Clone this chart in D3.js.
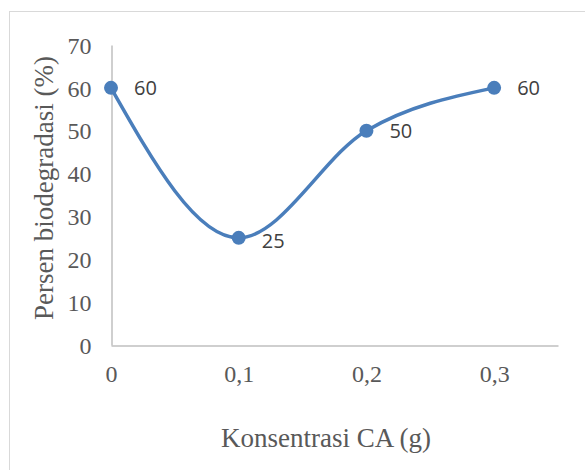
<!DOCTYPE html>
<html>
<head>
<meta charset="utf-8">
<script src="https://cdn.jsdelivr.net/npm/d3@7"></script>
<style>
  html, body { margin: 0; padding: 0; background: #fff; }
  svg { display: block; }
</style>
</head>
<body>
<svg id="chart" width="585" height="470"></svg>
<script>
// Biodegradation percentage vs. CA concentration
const concentrations = [0, 0.1, 0.2, 0.3];
const biodegradation = [60, 25, 50, 60];
const xTicks = [0, 0.1, 0.2, 0.3];
const yTicks = [0, 10, 20, 30, 40, 50, 60, 70];
const xTitle = "Konsentrasi CA (g)";
const yTitle = "Persen biodegradasi (%)";

const svg = d3.select("#chart");
const W = 585, H = 470;

const lineColor = "#4a7ebb";
const axisColor = "#bfbfbf";
const textColor = "#595959";
const serif = "'Liberation Serif', 'Times New Roman', serif";
const sans = "'Open Sans', 'Liberation Sans', sans-serif";

// chart frame
svg.append("rect")
  .attr("x", 9.5).attr("y", 11.5)
  .attr("width", W).attr("height", H)
  .attr("fill", "#fff")
  .attr("stroke", "#d9d9d9").attr("stroke-width", 1);

const plot = { left: 111, right: 558, top: 45, bottom: 345 };

const x = d3.scaleLinear().domain([0, 0.35]).range([plot.left, plot.right]);
const y = d3.scaleLinear().domain([0, 70]).range([plot.bottom, plot.top]);

const fmt = d => d === 0 ? "0" : d3.format(".1f")(d).replace(".", ",");

// y axis
const yAxis = svg.append("g")
  .attr("transform", `translate(${plot.left + 0.5},0)`)
  .call(d3.axisLeft(y).tickValues(yTicks).tickSize(0).tickPadding(20).tickFormat(d3.format("d")));
yAxis.select(".domain").attr("stroke", axisColor).attr("stroke-width", 1.5);
yAxis.selectAll("text")
  .attr("fill", textColor).attr("font-family", serif).attr("font-size", 24)
  .attr("dy", "0.34em");

// x axis
const xAxis = svg.append("g")
  .attr("transform", `translate(0,${plot.bottom + 0.5})`)
  .call(d3.axisBottom(x).tickValues(xTicks).tickSize(0).tickPadding(0).tickFormat(fmt));
xAxis.select(".domain").attr("stroke", axisColor).attr("stroke-width", 1.5);
xAxis.selectAll("text")
  .attr("fill", textColor).attr("font-family", serif).attr("font-size", 24)
  .attr("y", 36.5).attr("dy", null);

// axis titles
svg.append("text")
  .attr("x", 326)
  .attr("y", 447)
  .attr("text-anchor", "middle")
  .attr("fill", textColor).attr("font-family", serif).attr("font-size", 27)
  .text(xTitle);

svg.append("text")
  .attr("transform", `translate(53,188) rotate(-90)`)
  .attr("text-anchor", "middle")
  .attr("fill", textColor).attr("font-family", serif).attr("font-size", 27)
  .text(yTitle);

// data
const data = concentrations.map((c, i) => ({ c, v: biodegradation[i] }));

const line = d3.line()
  .x(d => x(d.c))
  .y(d => y(d.v))
  .curve(d3.curveMonotoneX);

svg.append("path")
  .datum(data)
  .attr("d", line)
  .attr("fill", "none")
  .attr("stroke", lineColor)
  .attr("stroke-width", 3.5)
  .attr("stroke-linecap", "round");

svg.selectAll("circle.pt")
  .data(data)
  .join("circle")
  .attr("class", "pt")
  .attr("cx", d => x(d.c))
  .attr("cy", d => y(d.v))
  .attr("r", 7)
  .attr("fill", lineColor);

svg.selectAll("text.lbl")
  .data(data)
  .join("text")
  .attr("class", "lbl")
  .attr("x", d => x(d.c) + 23)
  .attr("y", d => y(d.v))
  .attr("dy", d => d.v === 25 ? "0.5em" : "0.35em")
  .attr("fill", "#404040").attr("font-family", sans).attr("font-size", 20)
  .text(d => d.v);
</script>
</body>
</html>
